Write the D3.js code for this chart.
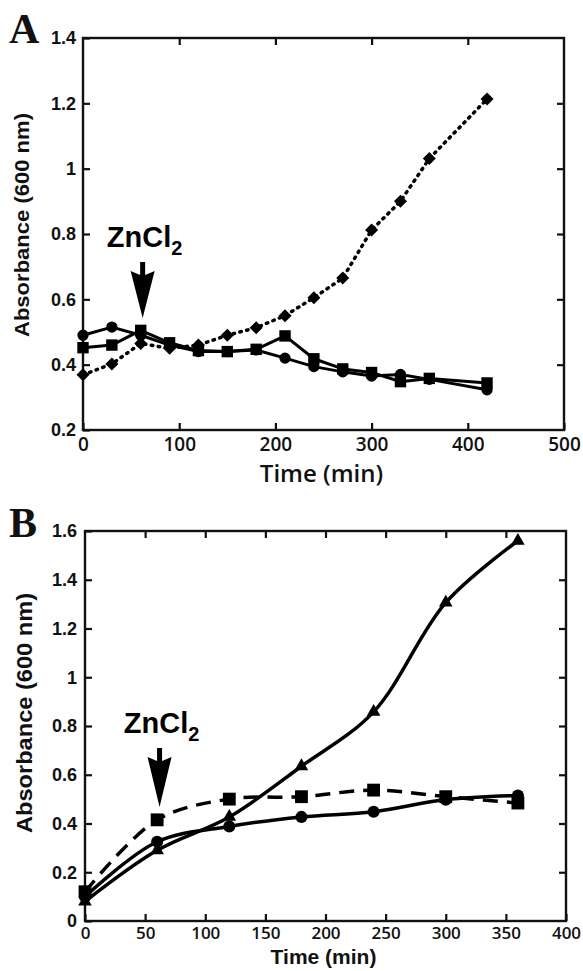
<!DOCTYPE html>
<html>
<head>
<meta charset="utf-8">
<script src="https://cdn.jsdelivr.net/npm/d3@7"></script>
<style>
  body { margin: 0; background: #fff; }
  svg { display: block; }
</style>
</head>
<body>
<div id="chart"></div>
<script>
// Panel A data
const aTime = [0, 30, 60, 90, 120, 150, 180, 210, 240, 270, 300, 330, 360, 420];
const aCircle = [0.49, 0.515, 0.49, 0.46, 0.44, 0.44, 0.445, 0.42, 0.394, 0.378, 0.365, 0.37, 0.355, 0.323];
const aSquare = [0.452, 0.46, 0.505, 0.467, 0.443, 0.44, 0.447, 0.488, 0.418, 0.387, 0.376, 0.348, 0.358, 0.344];
const aDiamond = [0.369, 0.402, 0.465, 0.45, 0.46, 0.49, 0.513, 0.55, 0.605, 0.665, 0.812, 0.9, 1.031, 1.213];
const aXTicks = [0, 100, 200, 300, 400, 500];
const aYTicks = [0.2, 0.4, 0.6, 0.8, 1, 1.2, 1.4];

// Panel B data
const bTime = [0, 60, 120, 180, 240, 300, 360];
const bTriangle = [0.08, 0.29, 0.427, 0.635, 0.858, 1.306, 1.56];
const bCircle = [0.10, 0.325, 0.388, 0.427, 0.448, 0.498, 0.515];
const bSquare = [0.12, 0.415, 0.50, 0.51, 0.537, 0.51, 0.484];
const bXTicks = [0, 50, 100, 150, 200, 250, 300, 350, 400];
const bYTicks = [0, 0.2, 0.4, 0.6, 0.8, 1, 1.2, 1.4, 1.6];

// time of the ZnCl2 addition
const zincTime = 62;

const width = 583, height = 971;
const svg = d3.select("#chart").append("svg")
  .attr("width", width)
  .attr("height", height);

const tickFont = "'Liberation Sans', Arial, sans-serif";
const xFont = "'Open Sans', 'DejaVu Sans', sans-serif";

function drawPanel(cfg) {
  const x = d3.scaleLinear().domain(cfg.xDomain).range([cfg.left, cfg.right]);
  const y = d3.scaleLinear().domain(cfg.yDomain).range([cfg.bottom, cfg.top]);
  const g = svg.append("g");

  // axes: ticks point inward
  const bottom = g.append("g")
    .attr("transform", `translate(0,${cfg.bottom})`)
    .call(d3.axisBottom(x).tickValues(cfg.xTicks).tickSizeInner(-7).tickSizeOuter(0).tickPadding(cfg.xPad).tickFormat(d3.format("d")));
  bottom.selectAll("text")
    .style("font-family", xFont).style("font-weight", 600).style("font-size", cfg.xTickSize + "px").attr("fill", "#111");

  const left = g.append("g")
    .attr("transform", `translate(${cfg.left},0)`)
    .call(d3.axisLeft(y).tickValues(cfg.yTicks).tickSizeInner(-7).tickSizeOuter(0).tickPadding(cfg.yPad).tickFormat(d => d3.format("")(+d.toFixed(1))));
  left.selectAll("text")
    .style("font-family", tickFont).style("font-weight", "bold").style("font-size", "18px").attr("fill", "#111");

  g.append("g")
    .attr("transform", `translate(0,${cfg.top})`)
    .call(d3.axisTop(x).tickValues(cfg.xTicks.slice(1, -1)).tickSizeInner(-7).tickSizeOuter(0).tickFormat(""));
  g.append("g")
    .attr("transform", `translate(${cfg.right},0)`)
    .call(d3.axisRight(y).tickValues(cfg.yTicks.slice(1, -1)).tickSizeInner(-7).tickSizeOuter(0).tickFormat(""));

  g.selectAll(".domain").remove();
  g.selectAll(".tick line").attr("stroke", "#111").attr("stroke-width", 2.2);

  g.append("rect")
    .attr("x", cfg.left).attr("y", cfg.top)
    .attr("width", cfg.right - cfg.left).attr("height", cfg.bottom - cfg.top)
    .attr("fill", "none").attr("stroke", "#111").attr("stroke-width", 2.4);

  // axis titles
  g.append("text")
    .attr("transform", `translate(${cfg.yTitleX},${cfg.yTitleY}) rotate(-90)`)
    .attr("text-anchor", "middle")
    .attr("textLength", cfg.yTitleLen)
    .attr("lengthAdjust", "spacingAndGlyphs")
    .style("font-family", tickFont).style("font-weight", "bold").style("font-size", cfg.yTitleSize + "px")
    .attr("fill", "#111")
    .text("Absorbance (600 nm)");

  g.append("text")
    .attr("x", (cfg.left + cfg.right) / 2 - 2)
    .attr("y", cfg.xTitleY)
    .attr("text-anchor", "middle")
    .style("font-family", cfg.xTitleFont).style("font-weight", cfg.xTitleWeight).style("font-size", cfg.xTitleSize + "px")
    .attr("fill", "#111")
    .text("Time (min)");

  // panel letter
  g.append("text")
    .attr("x", 9).attr("y", cfg.letterY)
    .style("font-family", "'Liberation Serif', 'Times New Roman', serif")
    .style("font-weight", "bold").style("font-size", "42px")
    .attr("fill", "#111")
    .text(cfg.letter);

  // series
  cfg.series.forEach(s => {
    const pts = cfg.time.map((t, i) => [t, s.values[i]]);
    const line = d3.line().x(d => x(d[0])).y(d => y(d[1])).curve(cfg.curve);
    g.append("path")
      .attr("d", line(pts))
      .attr("fill", "none")
      .attr("stroke", "#000")
      .attr("stroke-width", s.width)
      .attr("stroke-dasharray", s.dash || null)
      .attr("stroke-linecap", s.dash ? s.cap : "butt")
      .attr("stroke-linejoin", "round");
    g.selectAll(null)
      .data(pts)
      .enter().append("path")
      .attr("d", d3.symbol().type(s.symbol).size(s.size))
      .attr("transform", d => `translate(${x(d[0])},${y(d[1])}) rotate(${s.rotate || 0})`)
      .attr("fill", "#000");
  });

  // ZnCl2 arrow
  const ax = x(zincTime);
  const top = cfg.arrowTop, hb = cfg.arrowTop + 9, tip = cfg.arrowTip, hw = 12;
  g.append("path")
    .attr("d", `M${ax - 2.5},${top} L${ax + 2.5},${top} L${ax + 2.5},${hb + 4} L${ax + hw},${hb} L${ax},${tip} L${ax - hw},${hb} L${ax - 2.5},${hb + 4} Z`)
    .attr("fill", "#000");

  const lab = g.append("text")
    .attr("x", ax + 2)
    .attr("y", cfg.arrowTop - 15)
    .attr("text-anchor", "middle")
    .style("font-family", tickFont).style("font-weight", "bold").style("font-size", "29px")
    .attr("fill", "#000");
  lab.append("tspan").text("ZnCl");
  lab.append("tspan").attr("dy", 8).style("font-size", "20px").text("2");
}

drawPanel({
  letter: "A", letterY: 43,
  left: 83, right: 564, top: 38, bottom: 430,
  xDomain: [0, 500], yDomain: [0.2, 1.4],
  xTicks: aXTicks, yTicks: aYTicks,
  xPad: 8, yPad: 7, xTickSize: 19,
  yTitleX: 29, yTitleY: 225, yTitleLen: 224, yTitleSize: 21,
  xTitleY: 482, xTitleSize: 24, xTitleFont: xFont, xTitleWeight: 600,
  arrowTop: 262, arrowTip: 318,
  time: aTime,
  curve: d3.curveLinear,
  series: [
    { values: aDiamond, symbol: d3.symbolSquare, size: 85, rotate: 45, width: 3.5, dash: "1.5 5.5", cap: "round" },
    { values: aCircle, symbol: d3.symbolCircle, size: 100, width: 3 },
    { values: aSquare, symbol: d3.symbolSquare, size: 130, width: 3 }
  ]
});

drawPanel({
  letter: "B", letterY: 537,
  left: 85, right: 566, top: 531, bottom: 921,
  xDomain: [0, 400], yDomain: [0, 1.6],
  xTicks: bXTicks, yTicks: bYTicks,
  xPad: 6, yPad: 8, xTickSize: 17,
  yTitleX: 32, yTitleY: 713, yTitleLen: 240, yTitleSize: 22,
  xTitleY: 964, xTitleSize: 21, xTitleFont: tickFont, xTitleWeight: "bold",
  arrowTop: 748, arrowTip: 807,
  time: bTime,
  curve: d3.curveCatmullRom,
  series: [
    { values: bTriangle, symbol: d3.symbolTriangle, size: 80, width: 3.5 },
    { values: bCircle, symbol: d3.symbolCircle, size: 115, width: 3.5 },
    { values: bSquare, symbol: d3.symbolSquare, size: 165, width: 3.5, dash: "15 9", cap: "butt" }
  ]
});
</script>
</body>
</html>
